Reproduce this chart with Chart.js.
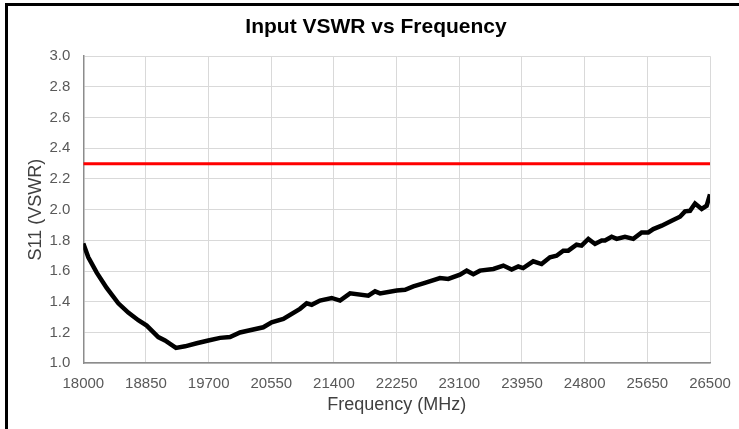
<!DOCTYPE html>
<html>
<head>
<meta charset="utf-8">
<script src="https://cdn.jsdelivr.net/npm/chart.js@4/dist/chart.umd.min.js"></script>
<style>
  body { margin: 0; background: #fff; }
  #wrap { position: relative; width: 739px; height: 429px; overflow: hidden; }
  #frame { position: absolute; left: 5px; top: 3px; width: 800px; height: 500px;
           border-left: 3px solid #000; border-top: 3px solid #000; pointer-events: none; }
  canvas { position: absolute; left: 0; top: 0; }
</style>
</head>
<body>
<div id="wrap">
  <canvas id="vswrchart" width="739" height="429"></canvas>
  <div id="frame"></div>
</div>
<script>
// frequency points (MHz)
const freqs = [18000, 18068, 18182, 18317, 18475, 18610, 18746, 18860, 19017, 19108,
  19257, 19380, 19538, 19696, 19855, 19990, 20126, 20260, 20441, 20555,
  20713, 20939, 21030, 21098, 21210, 21369, 21482, 21618, 21866, 21957,
  22025, 22251, 22364, 22477, 22612, 22838, 22950, 23109, 23200, 23290,
  23380, 23562, 23697, 23810, 23900, 23966, 24102, 24216, 24329, 24419,
  24510, 24578, 24690, 24758, 24850, 24940, 25031, 25076, 25166, 25234,
  25347, 25460, 25573, 25663, 25731, 25845, 25980, 26093, 26161, 26229,
  26297, 26387, 26455, 26500]
const vswr = [1.78, 1.69, 1.59, 1.49, 1.39, 1.33, 1.28, 1.245, 1.17, 1.148,
  1.10, 1.11, 1.13, 1.148, 1.165, 1.17, 1.20, 1.215, 1.234, 1.267,
  1.289, 1.354, 1.39, 1.38, 1.408, 1.425, 1.408, 1.455, 1.44, 1.468,
  1.455, 1.473, 1.478, 1.50, 1.52, 1.555, 1.549, 1.577, 1.603, 1.58,
  1.603, 1.614, 1.636, 1.61, 1.63, 1.62, 1.664, 1.646, 1.69, 1.70,
  1.733, 1.733, 1.772, 1.766, 1.81, 1.777, 1.80, 1.80, 1.824, 1.81,
  1.824, 1.81, 1.852, 1.852, 1.874, 1.896, 1.928, 1.954, 1.989, 1.993,
  2.04, 2.005, 2.026, 2.10]

// spec limit
const limitFreqs = [18000, 26500]
const limitVswr = [2.3, 2.3]

const xMin = 18000
const xMax = 26500
const xStep = 850
const yMin = 1.0
const yMax = 3.0
const yStep = 0.2

const font = "'Liberation Sans', Arial, sans-serif"
const ctx = document.getElementById('vswrchart')

// the title sits a bit right of the canvas centre, like the original
const shiftTitle = {
  id: 'shiftTitle',
  afterLayout(chart) {
    if (chart.titleBlock) chart.titleBlock.left = 42
  }
}

new Chart(ctx, {
  type: 'line',
  data: {
    datasets: [{
      label: 'S11',
      data: freqs.map((f, i) => ({ x: f, y: vswr[i] })),
      borderColor: '#000000',
      backgroundColor: '#000000',
      borderWidth: 4.5,
      pointRadius: 0,
      tension: 0
    }, {
      label: 'Limit',
      data: limitFreqs.map((f, i) => ({ x: f, y: limitVswr[i] })),
      borderColor: '#ff0000',
      backgroundColor: '#ff0000',
      borderWidth: 3,
      pointRadius: 0
    }]
  },
  plugins: [shiftTitle],
  options: {
    responsive: false,
    animation: false,
    layout: { padding: { left: 0, right: 29, top: 0, bottom: 0 } },
    plugins: {
      legend: { display: false },
      tooltip: { enabled: false },
      title: {
        display: true,
        text: 'Input VSWR vs Frequency',
        color: '#000000',
        font: { family: font, size: 21, weight: 'bold' },
        padding: { top: 15, bottom: 16 }
      }
    },
    scales: {
      x: {
        type: 'linear',
        min: xMin,
        max: xMax,
        afterFit: s => {
          s.height = 65.8
          s.paddingLeft = 0
          s.paddingRight = 0
        },
        grid: { color: '#d9d9d9', drawTicks: false },
        border: { color: '#8c8c8c', width: 1.5 },
        ticks: {
          stepSize: xStep,
          color: '#595959',
          padding: 11.5,
          maxRotation: 0,
          font: { family: font, size: 15 },
          callback: v => String(v)
        },
        title: {
          display: true,
          text: 'Frequency (MHz)',
          color: '#404040',
          font: { family: font, size: 18 },
          padding: { top: 0, bottom: 13 }
        }
      },
      y: {
        min: yMin,
        max: yMax,
        afterFit: s => { s.width = 83.3 },
        grid: { color: '#d9d9d9', drawTicks: false },
        border: { color: '#8c8c8c', width: 1.5 },
        ticks: {
          stepSize: yStep,
          color: '#595959',
          padding: 13,
          font: { family: font, size: 15 },
          callback: v => v.toFixed(1)
        },
        title: {
          display: true,
          text: 'S11 (VSWR)',
          color: '#404040',
          font: { family: font, size: 18 },
          padding: { top: 25, bottom: 0 }
        }
      }
    }
  }
})
</script>
</body>
</html>
